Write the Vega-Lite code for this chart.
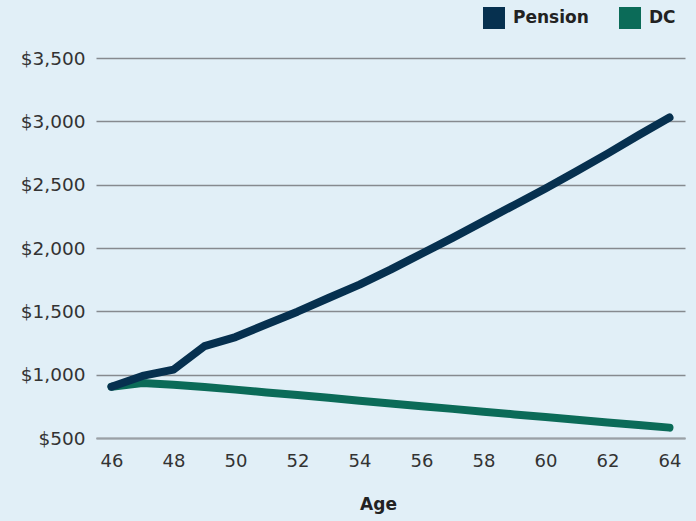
{
  "$schema": "https://vega.github.io/schema/vega-lite/v6.json",
  "width": 589,
  "height": 380,
  "autosize": {"type": "none"},
  "padding": {"left": 96, "top": 58, "right": 11, "bottom": 83},
  "background": "#e1eff7",
  "config": {
    "font": "DejaVu Sans",
    "view": {"stroke": null},
    "axis": {"labelColor": "#333333", "titleColor": "#222222"}
  },
  "data": {
    "values": [
      {"age": 46, "plan": "Pension", "value": 905},
      {"age": 47, "plan": "Pension", "value": 990},
      {"age": 48, "plan": "Pension", "value": 1040},
      {"age": 49, "plan": "Pension", "value": 1225},
      {"age": 50, "plan": "Pension", "value": 1297},
      {"age": 51, "plan": "Pension", "value": 1398},
      {"age": 52, "plan": "Pension", "value": 1497},
      {"age": 53, "plan": "Pension", "value": 1605},
      {"age": 54, "plan": "Pension", "value": 1711},
      {"age": 55, "plan": "Pension", "value": 1829},
      {"age": 56, "plan": "Pension", "value": 1955},
      {"age": 57, "plan": "Pension", "value": 2080},
      {"age": 58, "plan": "Pension", "value": 2210},
      {"age": 59, "plan": "Pension", "value": 2340},
      {"age": 60, "plan": "Pension", "value": 2470},
      {"age": 61, "plan": "Pension", "value": 2605},
      {"age": 62, "plan": "Pension", "value": 2745},
      {"age": 63, "plan": "Pension", "value": 2890},
      {"age": 64, "plan": "Pension", "value": 3030},
      {"age": 46, "plan": "DC", "value": 905},
      {"age": 47, "plan": "DC", "value": 934},
      {"age": 48, "plan": "DC", "value": 921},
      {"age": 49, "plan": "DC", "value": 903},
      {"age": 50, "plan": "DC", "value": 882},
      {"age": 51, "plan": "DC", "value": 860},
      {"age": 52, "plan": "DC", "value": 840},
      {"age": 53, "plan": "DC", "value": 817},
      {"age": 54, "plan": "DC", "value": 794},
      {"age": 55, "plan": "DC", "value": 772},
      {"age": 56, "plan": "DC", "value": 750},
      {"age": 57, "plan": "DC", "value": 730},
      {"age": 58, "plan": "DC", "value": 708},
      {"age": 59, "plan": "DC", "value": 686},
      {"age": 60, "plan": "DC", "value": 665},
      {"age": 61, "plan": "DC", "value": 644},
      {"age": 62, "plan": "DC", "value": 623},
      {"age": 63, "plan": "DC", "value": 603},
      {"age": 64, "plan": "DC", "value": 582}
    ]
  },
  "encoding": {
    "x": {
      "field": "age",
      "type": "quantitative",
      "scale": {"domain": [45.5, 64.5], "nice": false, "zero": false},
      "axis": {
        "title": "Age",
        "values": [46, 48, 50, 52, 54, 56, 58, 60, 62, 64],
        "grid": false,
        "ticks": false,
        "domain": true,
        "domainColor": "#9aa0a6",
        "domainWidth": 2,
        "labelFontSize": 18,
        "labelPadding": 14,
        "titleFontSize": 17,
        "titleFontWeight": "bold",
        "titlePadding": 26,
        "titleX": 282
      }
    },
    "y": {
      "field": "value",
      "type": "quantitative",
      "scale": {"domain": [500, 3500], "nice": false, "zero": false},
      "axis": {
        "title": null,
        "values": [500, 1000, 1500, 2000, 2500, 3000, 3500],
        "format": "$,.0f",
        "grid": true,
        "gridColor": "#868a8f",
        "gridWidth": 1.5,
        "ticks": false,
        "domain": false,
        "labelFontSize": 18.5,
        "labelPadding": 11
      }
    },
    "color": {
      "field": "plan",
      "type": "nominal",
      "scale": {"domain": ["Pension", "DC"], "range": ["#06304f", "#0b6b58"]},
      "legend": {
        "title": null,
        "orient": "none",
        "direction": "horizontal",
        "legendX": 387,
        "legendY": -51,
        "symbolType": "square",
        "symbolSize": 484,
        "symbolStrokeWidth": 0,
        "symbolOpacity": 1,
        "labelFontSize": 17,
        "labelFontWeight": "bold",
        "labelColor": "#222222",
        "labelOffset": 8,
        "columnPadding": 30,
        "encode": {
          "symbols": {
            "update": {
              "fill": {"scale": "color", "field": "value"},
              "fillOpacity": {"value": 1}
            }
          }
        }
      }
    }
  },
  "layer": [
    {
      "transform": [{"filter": "datum.plan === 'DC'"}],
      "mark": {"type": "line", "strokeWidth": 8, "strokeCap": "round", "strokeJoin": "round"}
    },
    {
      "transform": [{"filter": "datum.plan === 'Pension'"}],
      "mark": {"type": "line", "strokeWidth": 8, "strokeCap": "round", "strokeJoin": "round"}
    }
  ]
}
